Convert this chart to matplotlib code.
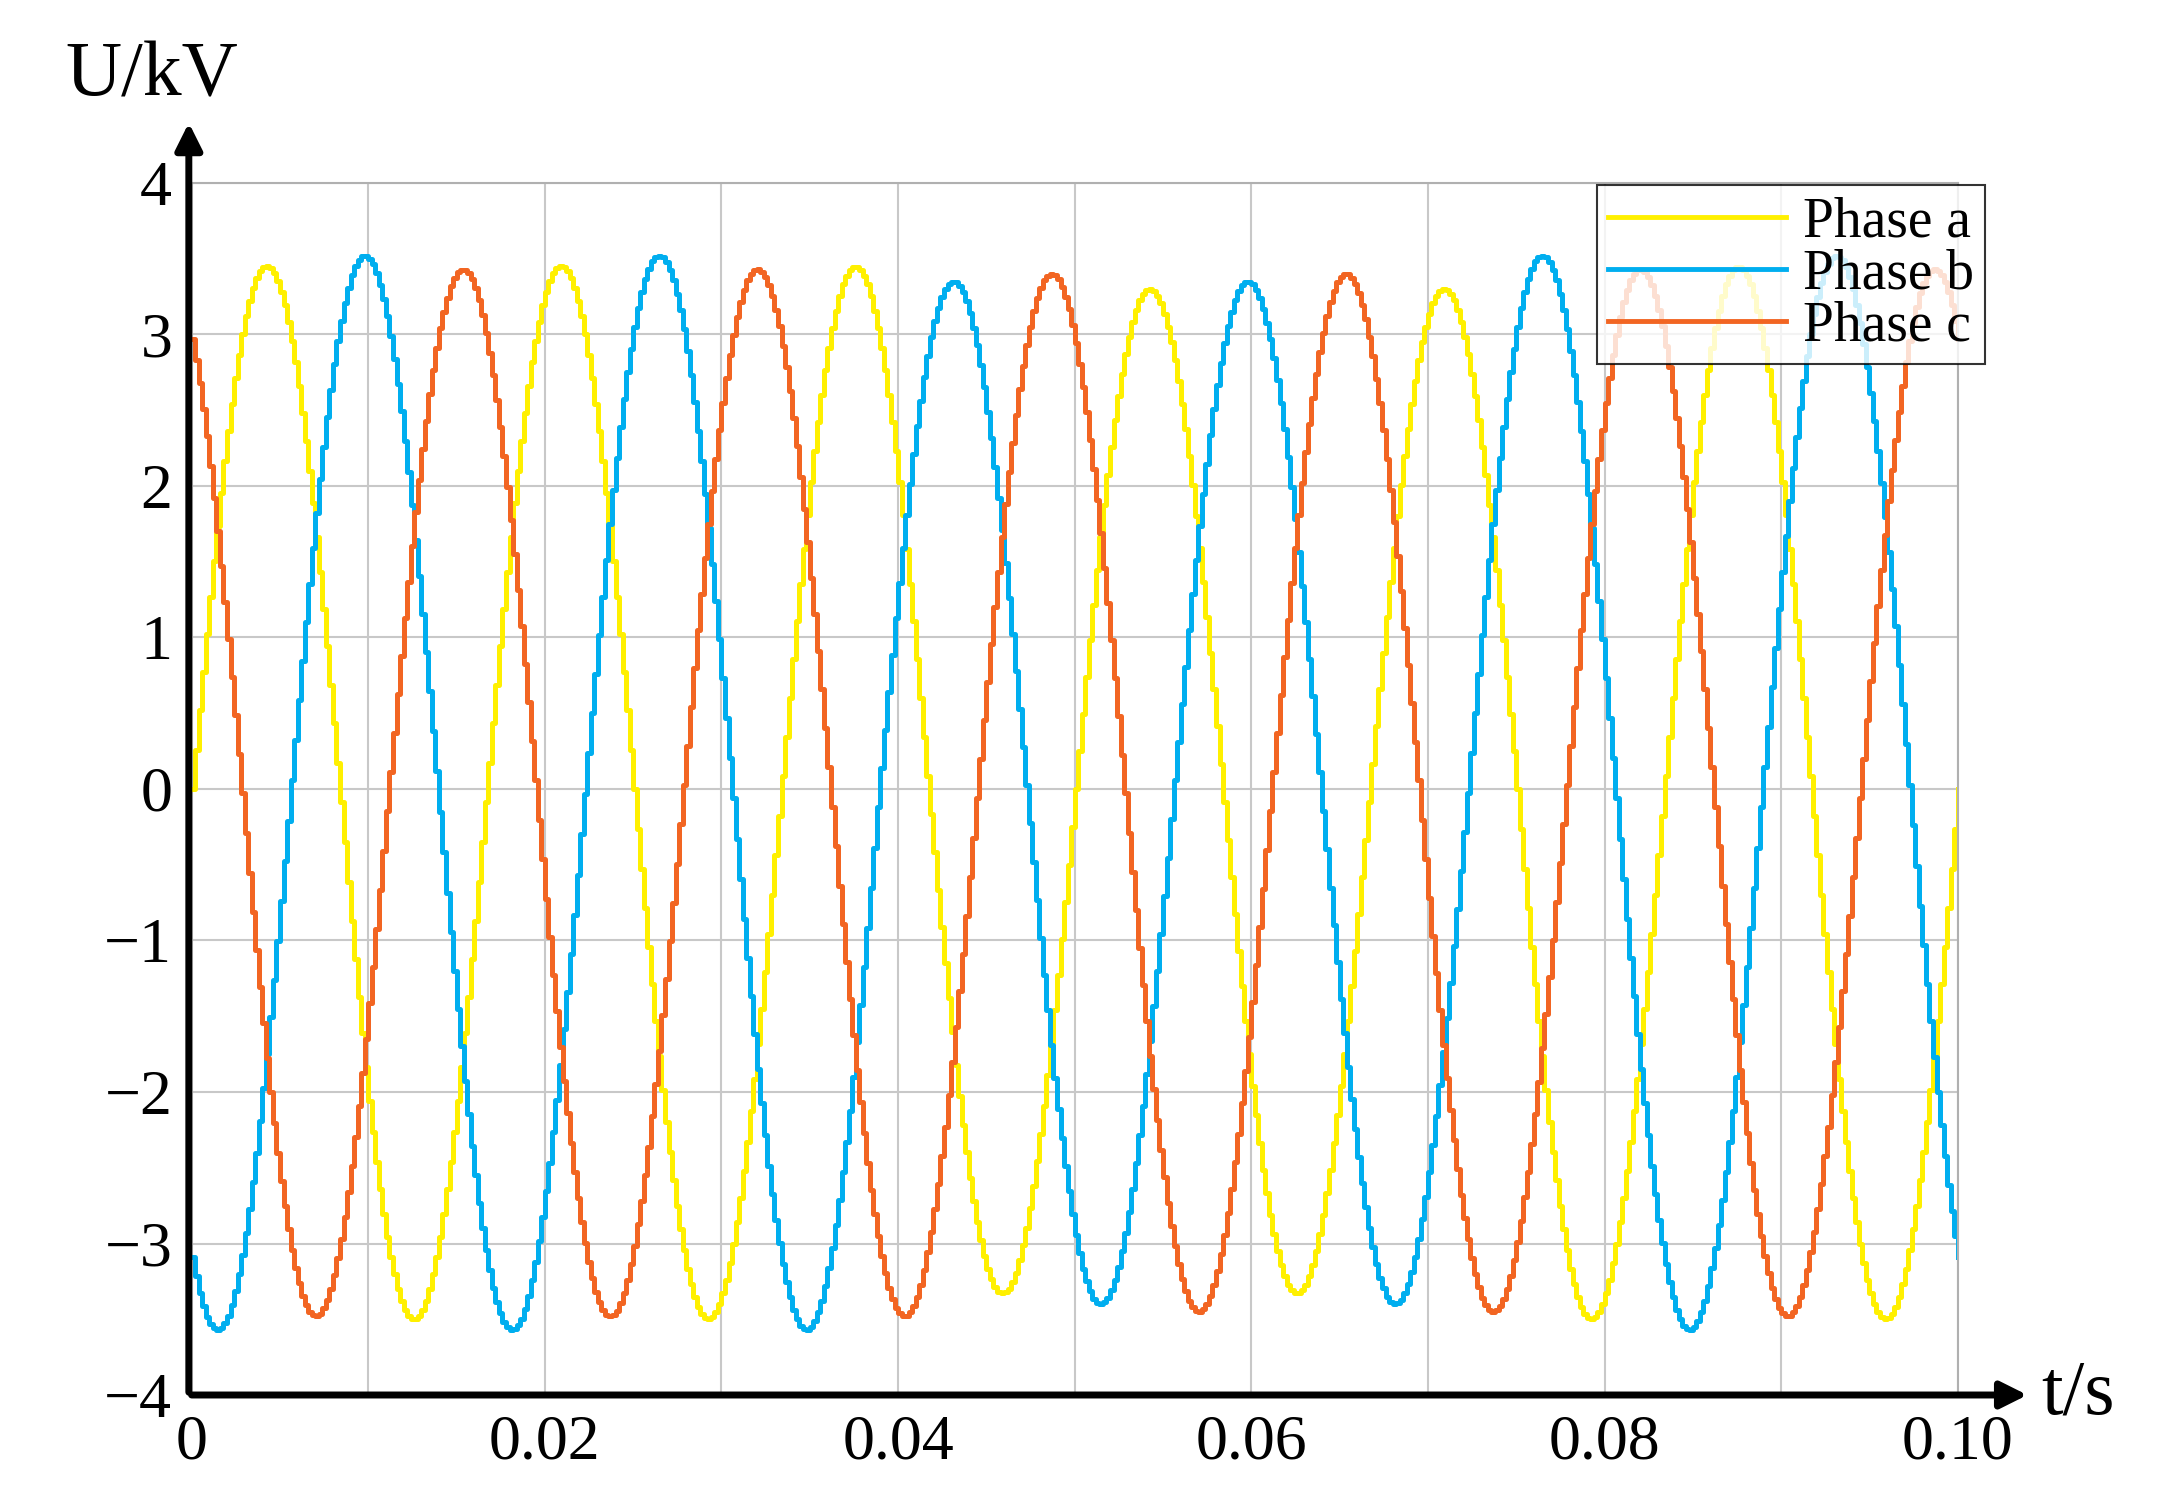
import numpy as np
import matplotlib
matplotlib.use("Agg")
import matplotlib.pyplot as plt

plt.rcParams['font.family'] = ['Liberation Serif', 'DejaVu Serif']

freq = 60.0
phase_names = ["Phase a", "Phase b", "Phase c"]
phase_colors = ["#FFF000", "#00AEEF", "#F26522"]
phase_shift_deg = [0, -120, 120]
# extremum magnitudes per half-cycle (consecutive half-cycles)
peaks_a = [3.45, 3.50, 3.45, 3.50, 3.45, 3.33, 3.30, 3.33, 3.30, 3.50, 3.45, 3.50, 3.45]
peaks_b = [3.57, 3.52, 3.57, 3.52, 3.57, 3.35, 3.40, 3.35, 3.40, 3.52, 3.57, 3.52, 3.57]
peaks_c = [3.43, 3.48, 3.43, 3.48, 3.43, 3.48, 3.40, 3.45, 3.40, 3.45, 3.43, 3.48, 3.43]
peaks = [peaks_a, peaks_b, peaks_c]
x_ticks = [0, 0.02, 0.04, 0.06, 0.08, 0.10]
x_labels = ["0", "0.02", "0.04", "0.06", "0.08", "0.10"]
x_minor = [0.01, 0.03, 0.05, 0.07, 0.09]
y_ticks = [-4, -3, -2, -1, 0, 1, 2, 3, 4]
y_labels = ["\u22124", "\u22123", "\u22122", "\u22121", "0", "1", "2", "3", "4"]

fig = plt.figure(figsize=(21.83, 15), dpi=100)
ax = fig.add_axes([0.0878, 0.07, 0.809, 0.808])

t = np.arange(0, 0.1 + 1e-9, 0.0002)
w = 2 * np.pi * freq
for name, col, sh, pk in zip(phase_names, phase_colors, phase_shift_deg, peaks):
    ang0 = np.deg2rad(sh)
    ang = w * t + ang0
    idx = np.floor(ang / np.pi).astype(int) - int(np.floor(ang0 / np.pi))
    idx = np.clip(idx, 0, len(pk) - 1)
    amp = np.array(pk)[idx]
    y = amp * np.sin(ang)
    ax.plot(t, y, color=col, lw=3.6, drawstyle='steps-post', label=name)

ax.set_xlim(0, 0.1)
ax.set_ylim(-4, 4)
ax.set_xticks(x_ticks)
ax.set_xticklabels(x_labels)
ax.set_xticks(x_minor, minor=True)
ax.set_yticks(y_ticks)
ax.set_yticklabels(y_labels)
ax.tick_params(labelsize=46, length=0, pad=14)
ax.tick_params(which='minor', length=0)
ax.grid(True, which='both', color='#c8c8c8', lw=1.5)
for s in ['top', 'right']:
    ax.spines[s].set_color('#b0b0b0')
    ax.spines[s].set_linewidth(1.5)
for s in ['left', 'bottom']:
    ax.spines[s].set_visible(False)

fig.patches.append(matplotlib.patches.FancyArrowPatch(
    (0.0865, 0.07), (0.0865, 0.92), transform=fig.transFigure,
    arrowstyle='-|>', mutation_scale=40, lw=5, color='black'))
fig.patches.append(matplotlib.patches.FancyArrowPatch(
    (0.0865, 0.07), (0.93, 0.07), transform=fig.transFigure,
    arrowstyle='-|>', mutation_scale=40, lw=5, color='black'))
fig.text(0.03, 0.925, "U/kV", fontsize=56, ha='left', va='bottom')
fig.text(0.935, 0.07, "t/s", fontsize=56, ha='left', va='center')

leg = ax.legend(loc='upper right', bbox_to_anchor=(0.922, 0.895), bbox_transform=fig.transFigure,
                fontsize=40, frameon=True, fancybox=False, edgecolor='black',
                handlelength=3.2, handletextpad=0.3, labelspacing=0.0, borderpad=0.2)
leg.get_frame().set_linewidth(1.5)
for h in leg.get_lines():
    h.set_linewidth(3.5)

fig.savefig("out.png", dpi=100)
